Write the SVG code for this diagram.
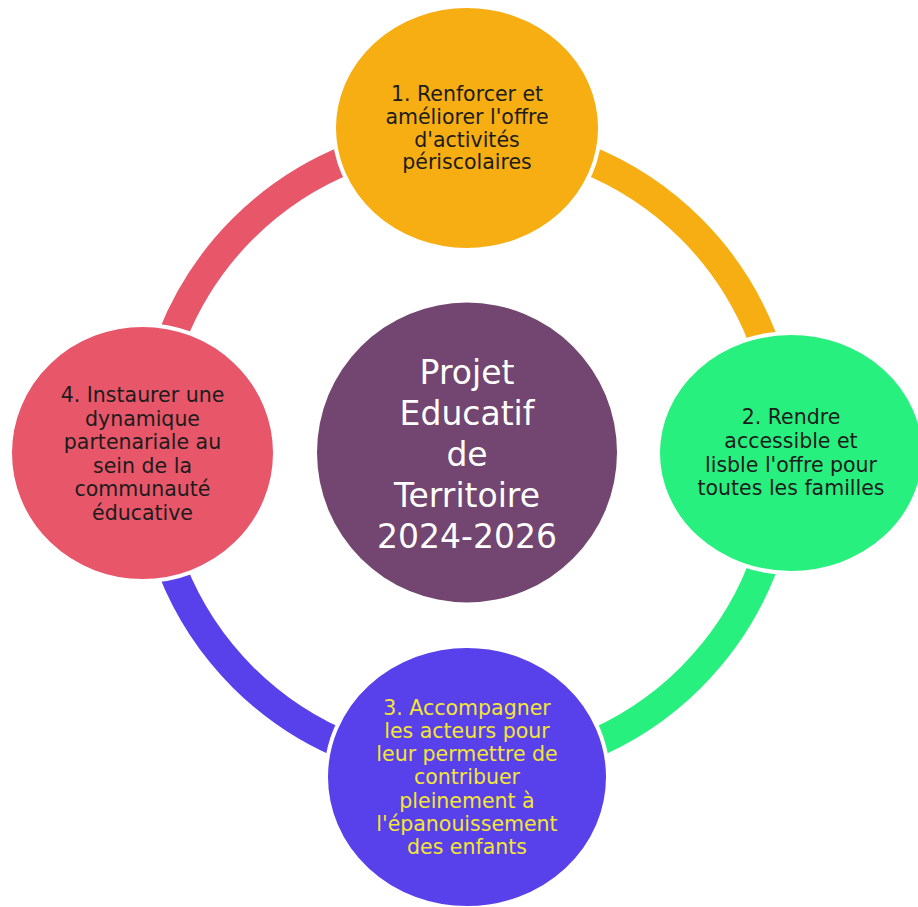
<svg xmlns="http://www.w3.org/2000/svg" width="918" height="907" viewBox="0 0 918 907">
<style>
.arc{fill:none;stroke-width:29}
.node{stroke:#ffffff;stroke-width:4}
.t{font-family:"DejaVu Sans","Liberation Sans",sans-serif;font-size:20.5px;text-anchor:middle;fill:#1c1c1c}
.y{fill:#F3E633}
.c{font-family:"DejaVu Sans","Liberation Sans",sans-serif;font-size:33px;text-anchor:middle;fill:#ffffff}
</style>
<rect width="918" height="907" fill="#ffffff"/>
<g id="connectors">
<path class="arc" stroke="#F6AE12" d="M467,136 A317,317 0 0 1 784,453"/>
<path class="arc" stroke="#28F07F" d="M784,453 A317,317 0 0 1 467,770"/>
<path class="arc" stroke="#5840EA" d="M467,770 A317,317 0 0 1 150,453"/>
<path class="arc" stroke="#E8566A" d="M150,453 A317,317 0 0 1 467,136"/>
</g>
<g id="center">
<circle cx="467" cy="452.5" r="150" fill="#724670"/>
<text class="c" x="467" y="384">Projet</text>
<text class="c" x="467" y="425">Educatif</text>
<text class="c" x="467" y="466">de</text>
<text class="c" x="467" y="507">Territoire</text>
<text class="c" x="467" y="548">2024-2026</text>
</g>
<g id="node1">
<ellipse class="node" cx="467" cy="128" rx="133" ry="122" fill="#F6AE12"/>
<text class="t" x="467" y="101">1. Renforcer et</text>
<text class="t" x="467" y="124">améliorer l'offre</text>
<text class="t" x="467" y="146.5">d'activités</text>
<text class="t" x="467" y="169">périscolaires</text>
</g>
<g id="node2">
<ellipse class="node" cx="791" cy="453" rx="133" ry="120" fill="#28F07F"/>
<text class="t" x="791" y="424">2. Rendre</text>
<text class="t" x="791" y="448">accessible et</text>
<text class="t" x="791" y="472">lisble l'offre pour</text>
<text class="t" x="791" y="495">toutes les familles</text>
</g>
<g id="node3">
<ellipse class="node" cx="467" cy="777" rx="141" ry="131" fill="#5840EA"/>
<text class="t y" x="467" y="715">3. Accompagner</text>
<text class="t y" x="467" y="738">les acteurs pour</text>
<text class="t y" x="467" y="761">leur permettre de</text>
<text class="t y" x="467" y="784">contribuer</text>
<text class="t y" x="467" y="807.5">pleinement à</text>
<text class="t y" x="467" y="831">l'épanouissement</text>
<text class="t y" x="467" y="854">des enfants</text>
</g>
<g id="node4">
<ellipse class="node" cx="142.5" cy="453" rx="132.5" ry="128" fill="#E8566A"/>
<text class="t" x="142.5" y="402">4. Instaurer une</text>
<text class="t" x="142.5" y="425.5">dynamique</text>
<text class="t" x="142.5" y="449">partenariale au</text>
<text class="t" x="142.5" y="472.5">sein de la</text>
<text class="t" x="142.5" y="496">communauté</text>
<text class="t" x="142.5" y="519.5">éducative</text>
</g>
</svg>
